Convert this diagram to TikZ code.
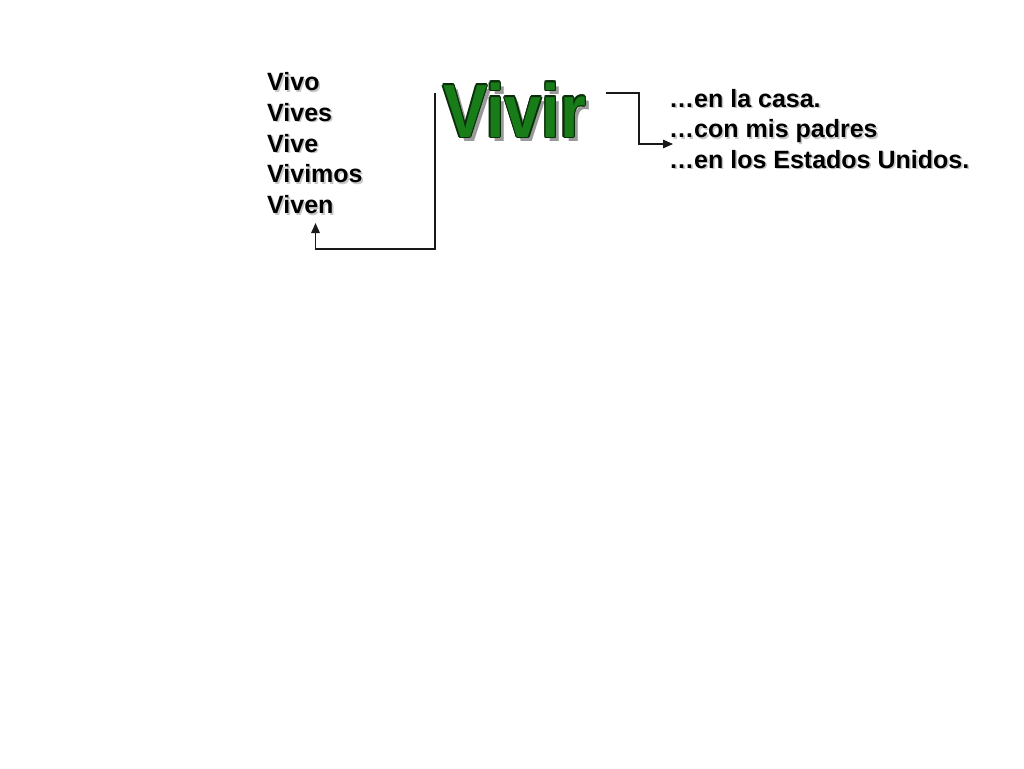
\documentclass[tikz,border=0pt]{standalone}
\usepackage{fontspec}
\setmainfont{Liberation Sans}
\newfontfamily\vivirfont[FakeStretch=0.88]{Liberation Sans}
\usetikzlibrary{arrows.meta}
\definecolor{vgreen}{RGB}{24,125,24}
\definecolor{vdark}{RGB}{10,45,10}
\tikzset{
  word/.style={anchor=base west, inner sep=0pt, font=\fontsize{25}{30}\selectfont\bfseries, text=black},
  wshadow/.style={word, text=black!22},
  conn/.style={line width=1.5pt, draw=black!90},
  tip/.style={-{Triangle[length=10pt,width=8.5pt]}},
  big/.style={anchor=base west, inner sep=0pt, font=\vivirfont\fontsize{75.4}{80}\selectfont\bfseries},
}
\newcommand{\shword}[4]{%
  \node[wshadow] at (#1+1.6,#2+1.6) {#4};
  \node[word] (#3) at (#1,#2) {#4};}
\begin{document}
\begin{tikzpicture}[x=1pt,y=-1pt]
\useasboundingbox[fill=white] (0,0) rectangle (1024,768);
% left list
\shword{267}{90.5}{w1}{Vivo}
\shword{267}{121.3}{w2}{Vives}
\shword{267}{152}{w3}{Vive}
\shword{267}{182.7}{w4}{Vivimos}
\shword{267}{213.5}{w5}{Viven}
% right list
\shword{669}{107}{r1}{…en la casa.}
\shword{669}{137.5}{r2}{…con mis padres}
\shword{669}{168}{r3}{…en los Estados Unidos.}
% Vivir
\node[big, text=black!40] at (447,141) {Vivir};
\foreach \a in {0,30,...,330}{
  \node[big, text=vdark] at ({443+1.3*cos(\a)},{137+1.3*sin(\a)}) {Vivir};
}
\node[big, text=vgreen] (vivir) at (443,137) {Vivir};
% connectors
\coordinate (la) at (435,93);
\coordinate (lb) at (315.5,249);
\coordinate (lend) at (315.5,223);
\draw[conn, tip] (la) -- (la |- lb) -- (lb) -- (lend);
\coordinate (ra) at (606,93);
\coordinate (rb) at (639,144);
\coordinate (rend) at (673,144);
\draw[conn, tip] (ra) -- (rb |- ra) -- (rb) -- (rend);
\end{tikzpicture}
\end{document}
